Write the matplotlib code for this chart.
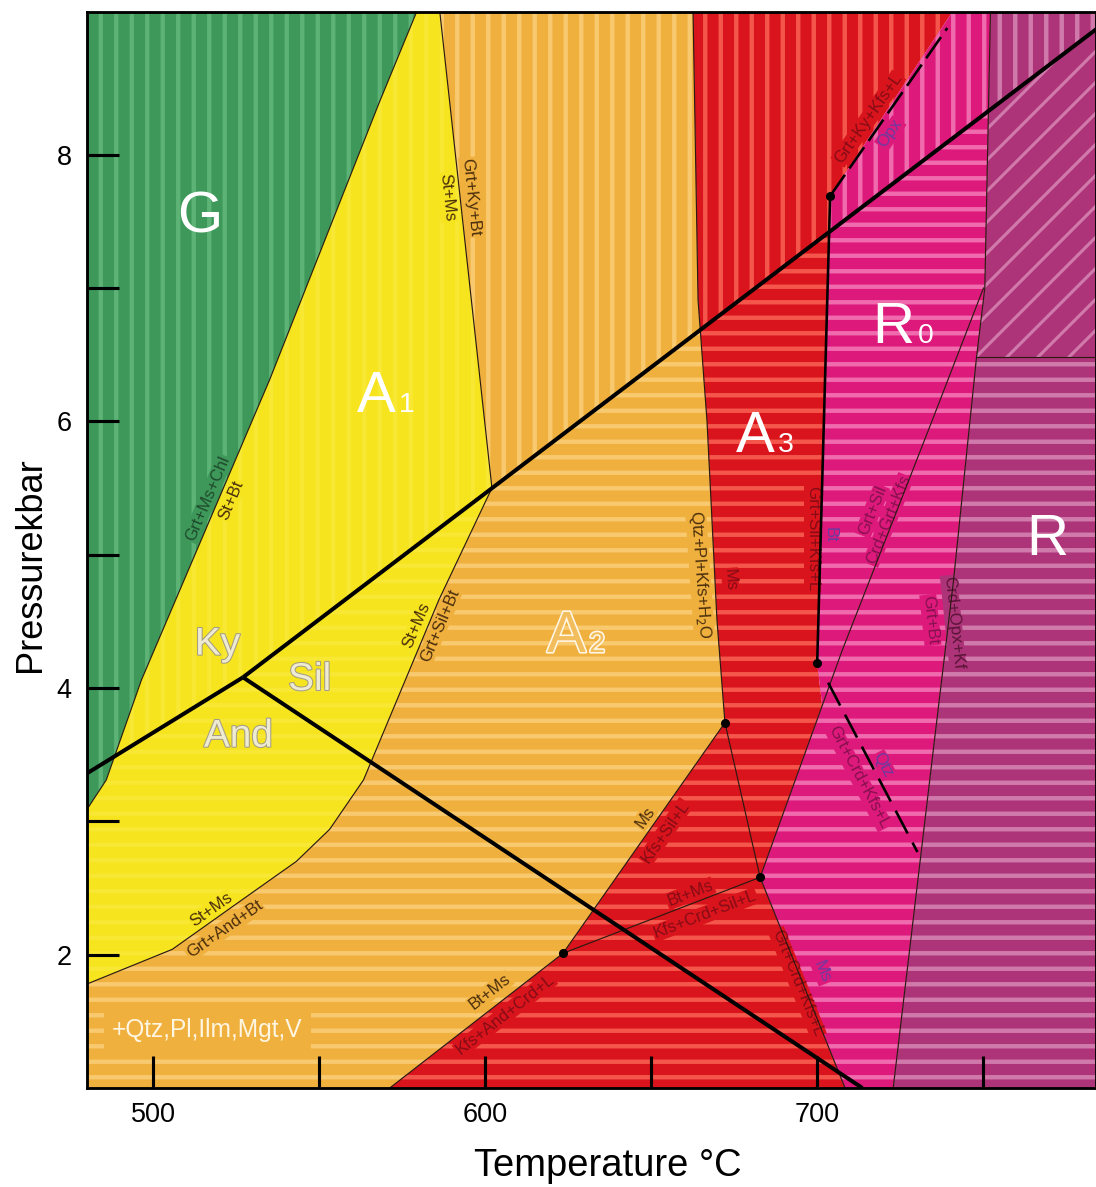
import matplotlib.pyplot as plt
import matplotlib.patheffects as pe
from matplotlib.patches import Polygon

plt.rcParams["font.family"] = ["Liberation Sans", "DejaVu Sans"]
plt.rcParams["hatch.linewidth"] = 3.4

DPI = 93

# axis range (T in degC, P in kbar)
T_MIN, T_MAX = 480, 784
P_MIN, P_MAX = 1.0, 9.07

# Al2SiO5 triple point and its three reactions (thick lines)
ky_and_T = [480, 527]
ky_and_P = [3.36, 4.08]
ky_sil_T = [527, 784]
ky_sil_P = [4.08, 8.94]
sil_and_T = [527, 713.6]
sil_and_P = [4.08, 1.0]

# thin reaction lines
green_T = [579.3, 568.2, 535.0, 496.4, 485.8, 480.0]
green_P = [9.07, 8.40, 6.31, 4.06, 3.31, 3.09]
a1_right_T = [586.3, 602.0]
a1_right_P = [9.07, 5.50]
a1_low_T = [602.0, 586.0, 563.3, 553.1, 543.1, 523.8, 505.7, 480.0]
a1_low_P = [5.50, 4.66, 3.31, 2.94, 2.70, 2.36, 2.04, 1.78]
melt_T = [662.6, 664.1, 666.8, 669.8, 672.2]
melt_P = [9.07, 6.91, 6.00, 4.51, 3.74]
ms_T = [672.2, 623.4]
ms_P = [3.74, 2.01]
btms_T = [623.4, 571.2]
btms_P = [2.01, 1.00]
bt_inner_T = [623.4, 682.8]
bt_inner_P = [2.01, 2.58]
a3_inner_T = [672.2, 682.8]
a3_inner_P = [3.74, 2.58]
r0_low_T = [682.8, 708.4]
r0_low_P = [2.58, 1.00]
crd_T = [750.1, 734.7, 707.5, 682.8]
crd_P = [7.00, 6.01, 4.28, 2.58]
r_T = [752.2, 750.5, 748.0, 741.0, 735.0, 722.9]
r_P = [9.07, 7.00, 6.48, 4.79, 3.54, 1.00]
r_h_T = [748.0, 784]
r_h_P = [6.48, 6.48]
vert_T = [703.9, 700.0]
vert_P = [7.69, 4.19]
dash1_T = [703.9, 739.2]
dash1_P = [7.69, 8.95]
dash2_T = [703.3, 730.2]
dash2_P = [4.04, 2.77]
dots_T = [703.9, 700.0, 672.2, 623.4, 682.8]
dots_P = [7.69, 4.19, 3.74, 2.01, 2.58]


def pts(T, P):
    return list(zip(T, P))


def rev(T, P):
    return list(zip(T[::-1], P[::-1]))


green_poly = [(T_MIN, P_MAX)] + pts(green_T, green_P)
yellow_poly = ([(579.3, P_MAX)] + pts(a1_right_T, a1_right_P)
               + pts(a1_low_T, a1_low_P) + rev(green_T, green_P))
orange_poly = ([(586.3, P_MAX)] + pts(melt_T, melt_P) + pts(ms_T, ms_P)
               + pts(btms_T, btms_P) + [(T_MIN, P_MIN)]
               + rev(a1_low_T, a1_low_P) + rev(a1_right_T, a1_right_P))
red_poly = ([(662.6, P_MAX), (740.7, P_MAX)] + pts(vert_T, vert_P)
            + [(701.5, 3.87), (682.8, 2.58), (708.4, P_MIN)]
            + rev(btms_T, btms_P) + rev(ms_T, ms_P) + rev(melt_T, melt_P))
magenta_poly = ([(740.7, P_MAX)] + pts(r_T, r_P)
                + [(708.4, P_MIN), (682.8, 2.58), (701.5, 3.87)]
                + rev(vert_T, vert_P))
purple_poly = pts(r_T, r_P) + [(T_MAX, P_MIN), (T_MAX, P_MAX)]

# stripe zones: kyanite side of the thick line (vertical), the rest horizontal
zone_all = [(T_MIN, P_MIN), (T_MAX, P_MIN), (T_MAX, P_MAX), (T_MIN, P_MAX)]
zone_up = [(480, 3.36), (527, 4.08), (784, 8.94), (784, P_MAX), (480, P_MAX)]
zone_down = [(480, P_MIN), (784, P_MIN), (784, 8.94), (527, 4.08), (480, 3.36)]
zone_diag = [(654, 6.48), (784, 6.48), (784, 8.94)]
zone_down_r = [(480, P_MIN), (784, P_MIN), (784, 6.48), (654, 6.48),
               (527, 4.08), (480, 3.36)]

fig = plt.figure(figsize=(1096 / DPI, 1187 / DPI), dpi=DPI)
ax = fig.add_axes([87 / 1096, 99 / 1187, 1009 / 1096, 1076 / 1187])
ax.set_xlim(T_MIN, T_MAX)
ax.set_ylim(P_MIN, P_MAX)


def fill(poly, base, stripe, hatch, zone):
    p = Polygon(poly, closed=True, facecolor=base, edgecolor=stripe,
                hatch=hatch, lw=0, zorder=1)
    ax.add_patch(p)
    p.set_clip_path(Polygon(zone, closed=True, transform=ax.transData))


GREEN = ("#3d9859", "#5cb375")
YELLOW = ("#f6e41e", "#f8e833")
ORANGE = ("#f0b03e", "#f8c96f")
RED = ("#d9141c", "#f4564b")
MAGENTA = ("#dd1a7b", "#f06aae")
PURPLE = ("#ae3479", "#d07aab")

fill(green_poly, *GREEN, "|", zone_all)
for poly, col in [(yellow_poly, YELLOW), (orange_poly, ORANGE),
                  (red_poly, RED), (magenta_poly, MAGENTA)]:
    fill(poly, *col, "|", zone_up)
    fill(poly, *col, "-", zone_down)
fill(purple_poly, *PURPLE, "|", zone_up)
fill(purple_poly, *PURPLE, "-", zone_down_r)
plt.rcParams["hatch.linewidth"] = 2.4
fill(purple_poly, *PURPLE, "/", zone_diag)
plt.rcParams["hatch.linewidth"] = 3.4

# thin reaction lines
thin = "#2a1a12"
for T, P in [(green_T, green_P), (a1_right_T, a1_right_P), (a1_low_T, a1_low_P),
             (melt_T, melt_P), (ms_T, ms_P), (btms_T, btms_P),
             (bt_inner_T, bt_inner_P), (a3_inner_T, a3_inner_P),
             (r0_low_T, r0_low_P), (crd_T, crd_P), (r_T, r_P), (r_h_T, r_h_P)]:
    ax.plot(T, P, color=thin, lw=0.9, zorder=3)

ax.plot(vert_T, vert_P, color="black", lw=2.0, zorder=4)
ax.plot(dash1_T, dash1_P, color="black", lw=2.0, dashes=(10, 3), zorder=4)
ax.plot(dash2_T, dash2_P, color="black", lw=2.0, dashes=(10, 4), zorder=4)

for T, P in [(ky_and_T, ky_and_P), (ky_sil_T, ky_sil_P), (sil_and_T, sil_and_P)]:
    ax.plot(T, P, color="black", lw=3.1, zorder=5, solid_capstyle="butt")

ax.plot(dots_T, dots_P, "o", color="black", ms=6, zorder=6)

# field names
big = dict(color="white", fontsize=45, va="baseline", zorder=7)
sub = dict(color="white", fontsize=22, va="baseline", ha="left", zorder=7)
ax.text(513.9, 7.42, "G", ha="center", **big)
ax.text(573.0, 6.07, "A", ha="right", **big)
ax.text(574.0, 6.07, "1", **sub)
ax.text(687.3, 5.77, "A", ha="right", **big)
ax.text(688.3, 5.77, "3", **sub)
ax.text(729.3, 6.59, "R", ha="right", **big)
ax.text(730.3, 6.59, "0", **sub)
ax.text(769.4, 5.00, "R", ha="center", **big)
hollow = [pe.withStroke(linewidth=2.5, foreground="#fff6e6")]
ax.text(630.3, 4.27, "A", ha="right", color="#f2bd5c", fontsize=45,
        va="baseline", zorder=7, path_effects=hollow)
ax.text(631.3, 4.27, "2", ha="left", color="#f2bd5c", fontsize=22,
        va="baseline", zorder=7, path_effects=hollow)
emboss = [pe.withStroke(linewidth=1.6, foreground="#a39d86")]
for T, P, s in [(519.3, 4.25, "Ky"), (547.1, 3.985, "Sil"), (525.6, 3.56, "And")]:
    ax.text(T, P, s, ha="center", va="baseline", fontsize=30,
            color="#efead2", zorder=7, path_effects=emboss)

ax.text(487.6, 1.386, "+Qtz,Pl,Ilm,Mgt,V", color="#fff6e2", fontsize=19,
        va="baseline", ha="left", zorder=7,
        bbox=dict(boxstyle="square,pad=0.35", fc=ORANGE[0], ec="none"))

# reaction labels: (T, P, text, rotation, colour, background)
BROWN = "#4a2e0c"
DKRED = "#850c16"
DKMAG = "#86104e"
VIOLET = "#6c3aa0"
labels = [
    (516.3, 5.42, "Grt+Ms+Chl", 67, "#1f4a2c", GREEN[0]),
    (523.4, 5.41, "St+Bt", 67, BROWN, YELLOW[0]),
    (595.6, 7.68, "Grt+Ky+Bt", -84, BROWN, ORANGE[0]),
    (588.4, 7.68, "St+Ms", -84, BROWN, YELLOW[0]),
    (579.4, 4.47, "St+Ms", 67, BROWN, YELLOW[0]),
    (586.3, 4.47, "Grt+Sil+Bt", 67, BROWN, ORANGE[0]),
    (517.5, 2.34, "St+Ms", 35, BROWN, YELLOW[0]),
    (521.4, 2.19, "Grt+And+Bt", 35, BROWN, ORANGE[0]),
    (664.7, 4.85, "Qtz+Pl+Kfs+H$_2$O", -86, BROWN, ORANGE[0]),
    (673.8, 4.81, "Ms", -86, DKRED, RED[0]),
    (648.1, 3.03, "Ms", 55, BROWN, ORANGE[0]),
    (654.2, 2.92, "Kfs+Sil+L", 55, DKRED, RED[0]),
    (601.4, 1.72, "Bt+Ms", 38, BROWN, ORANGE[0]),
    (605.9, 1.55, "Kfs+And+Crd+L", 38, DKRED, RED[0]),
    (661.7, 2.46, "Bt+Ms", 21, DKRED, RED[0]),
    (666.2, 2.30, "Kfs+Crd+Sil+L", 21, DKRED, RED[0]),
    (694.0, 1.79, "Grt+Crd+Kfs+L", -68, DKRED, RED[0]),
    (701.5, 1.87, "Ms", -68, VIOLET, MAGENTA[0]),
    (715.4, 8.27, "Grt+Ky+Kfs+L", 55, DKRED, RED[0]),
    (722.0, 8.16, "Opx", 55, VIOLET, MAGENTA[0]),
    (698.5, 5.12, "Grt+Sil+Kfs+L", -90, DKRED, RED[0]),
    (703.9, 5.15, "Bt", -90, VIOLET, MAGENTA[0]),
    (716.6, 5.33, "Grt+Sil", 68, DKMAG, MAGENTA[0]),
    (721.4, 5.26, "Crd+Grt+Kfs", 68, DKMAG, MAGENTA[0]),
    (734.1, 4.51, "Grt+Bt", -84, DKMAG, MAGENTA[0]),
    (741.0, 4.49, "Crd+Opx+Kf", -84, "#5a1438", PURPLE[0]),
    (712.4, 3.33, "Grt+Crd+Kfs+L", -62, DKMAG, MAGENTA[0]),
    (719.9, 3.42, "Qtz", -62, VIOLET, MAGENTA[0]),
]
for T, P, s, rot, col, bg in labels:
    ax.text(T, P, s, rotation=rot, rotation_mode="anchor", ha="center",
            va="center", fontsize=13, color=col, zorder=2.5,
            bbox=dict(boxstyle="square,pad=0.06", fc=bg, ec="none"))

# axes styling
ax.set_xticks([500, 600, 700])
ax.set_xticks([550, 650, 750], minor=True)
ax.set_yticks([2, 4, 6, 8])
ax.set_yticks([3, 5, 7], minor=True)
ax.tick_params(which="both", direction="in", length=25, width=2.4,
               labelsize=21, top=False, right=False, zorder=8)
ax.tick_params(axis="y", pad=12)
ax.tick_params(axis="x", pad=11)
for s in ax.spines.values():
    s.set_linewidth(2.2)
    s.set_zorder(9)

ax.set_xlabel("Temperature °C", fontsize=29.5)
ax.xaxis.set_label_coords(0.516, -0.056)
ax.set_ylabel("Pressurekbar", fontsize=28)
ax.yaxis.set_label_coords(-0.039, 0.486)

fig.savefig("out.png", dpi=DPI)
